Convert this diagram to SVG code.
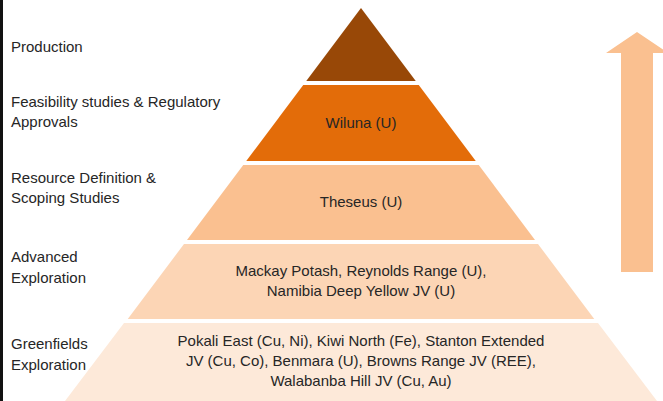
<svg xmlns="http://www.w3.org/2000/svg" width="663" height="401" viewBox="0 0 663 401">
<style>
.lbl{font-family:"Liberation Sans",Arial,sans-serif;font-size:15px;fill:#262626}
.tt{font-family:"Liberation Sans",Arial,sans-serif;font-size:15px;fill:#262626;text-anchor:middle}
</style>
<rect x="0" y="0" width="663" height="401" fill="#ffffff"/>
<rect x="0" y="0" width="3" height="401" fill="#111111"/>
<g id="labels">
<text class="lbl" x="11" y="52">Production</text>
<text class="lbl" x="11" y="107">Feasibility studies &amp; Regulatory</text>
<text class="lbl" x="11" y="127">Approvals</text>
<text class="lbl" x="11" y="183">Resource Definition &amp;</text>
<text class="lbl" x="11" y="203">Scoping Studies</text>
<text class="lbl" x="11" y="262">Advanced</text>
<text class="lbl" x="11" y="283">Exploration</text>
<text class="lbl" x="11" y="349">Greenfields</text>
<text class="lbl" x="11" y="370">Exploration</text>
</g>
<g id="tier-production">
<polygon points="361,8 415.75,81 306.25,81" fill="#984807"/>
</g>
<g id="tier-feasibility">
<polygon points="303.25,85 418.75,85 475.75,161 246.25,161" fill="#E36C09"/>
<text class="tt" x="361" y="128">Wiluna (U)</text>
</g>
<g id="tier-resource">
<polygon points="243.25,165 478.75,165 535,240 187,240" fill="#FAC090"/>
<text class="tt" x="361" y="207">Theseus (U)</text>
</g>
<g id="tier-advanced">
<polygon points="184,244 538,244 594.25,319 127.75,319" fill="#FCD5B5"/>
<text class="tt" x="361" y="276">Mackay Potash, Reynolds Range (U),</text>
<text class="tt" x="361" y="296">Namibia Deep Yellow JV (U)</text>
</g>
<g id="tier-greenfields">
<polygon points="124,323 598,323 657,401 65,401" fill="#FDE9D9"/>
<text class="tt" x="361" y="346">Pokali East (Cu, Ni), Kiwi North (Fe), Stanton Extended</text>
<text class="tt" x="361" y="366">JV (Cu, Co), Benmara (U), Browns Range JV (REE),</text>
<text class="tt" x="361" y="386">Walabanba Hill JV (Cu, Au)</text>
</g>
<g id="connectors">
<polygon points="637,32 668,53 653,53 653,272 621,272 621,53 606,53" fill="#FAC090"/>
</g>
</svg>
